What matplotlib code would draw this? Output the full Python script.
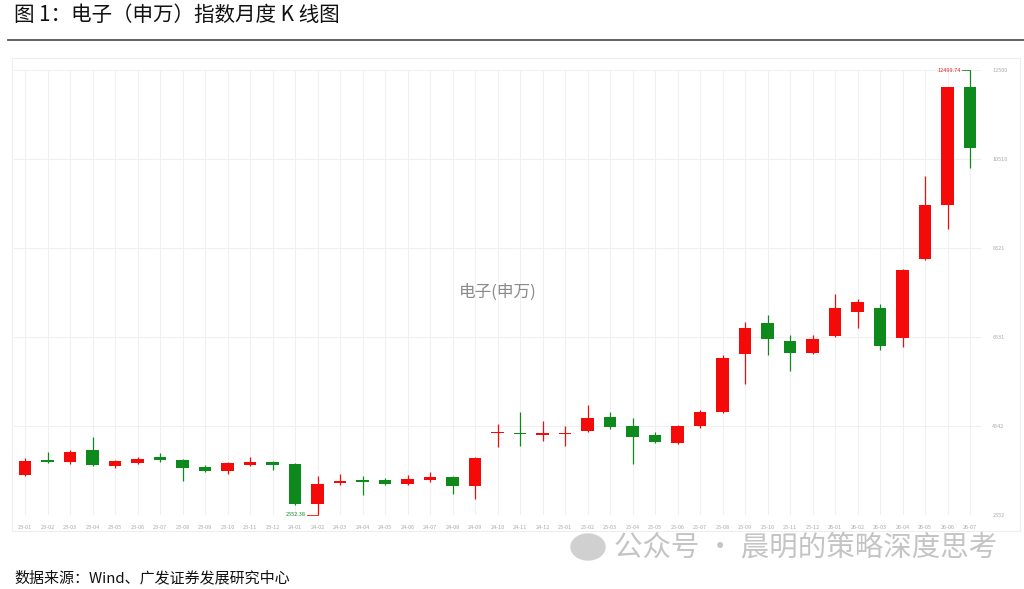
import numpy as np
import matplotlib
matplotlib.use("Agg")
import matplotlib.pyplot as plt
from matplotlib.patches import Rectangle, Ellipse

plt.rcParams['font.family'] = ['Noto Sans CJK SC', 'DejaVu Sans']

months = ["23-01", "23-02", "23-03", "23-04", "23-05", "23-06", "23-07", "23-08", "23-09", "23-10",
          "23-11", "23-12", "24-01", "24-02", "24-03", "24-04", "24-05", "24-06", "24-07", "24-08",
          "24-09", "24-10", "24-11", "24-12", "25-01", "25-02", "25-03", "25-04", "25-05", "25-06",
          "25-07", "25-08", "25-09", "25-10", "25-11", "25-12", "26-01", "26-02", "26-03", "26-04",
          "26-05", "26-06", "26-07"]
opens = [3446, 3781, 3737, 4005, 3647, 3714, 3848, 3781, 3625, 3535,
         3670, 3737, 3692, 2798, 3267, 3334, 3334, 3245, 3334, 3401,
         3200, 4385, 4385, 4340, 4362, 4429, 4742, 4541, 4340, 4161,
         4541, 4854, 6150, 6843, 6441, 6173, 6553, 7089, 7178, 6508,
         8274, 9481, 12120]
closes = [3759, 3737, 3960, 3670, 3759, 3804, 3781, 3602, 3535, 3714,
          3737, 3670, 2798, 3245, 3312, 3290, 3245, 3357, 3401, 3200,
          3826, 4407, 4362, 4385, 4385, 4720, 4519, 4295, 4184, 4541,
          4854, 6061, 6731, 6486, 6173, 6486, 7178, 7313, 6329, 8028,
          9481, 12120, 10754]
highs = [3826, 3960, 4005, 4295, 3781, 3848, 3938, 3804, 3670, 3737,
         3848, 3759, 3714, 3424, 3468, 3424, 3379, 3446, 3513, 3424,
         3848, 4586, 4854, 4653, 4541, 5011, 4854, 4720, 4407, 4564,
         4899, 6128, 6866, 7022, 6575, 6575, 7491, 7380, 7268, 8050,
         10129, 12130, 12499.74]
lows = [3424, 3714, 3692, 3647, 3602, 3692, 3737, 3312, 3513, 3468,
        3647, 3558, 2776, 2552.38, 3223, 2999, 3223, 3223, 3290, 3021,
        2910, 4072, 4094, 4206, 4094, 4407, 4474, 3692, 4161, 4139,
        4496, 4832, 5480, 6128, 5770, 6150, 6530, 6731, 6240, 6307,
        8252, 8944, 10307]

ymin, ymax = 2552.38, 12499.74
up_color = "#f50a0a"
down_color = "#0e8a1c"

fig = plt.figure(figsize=(10.24, 5.89), dpi=100)

# title and rule
fig.text(14 / 1024, 1 - 15 / 589, "图 1：电子（申万）指数月度 K 线图", fontsize=14.8,
         color="#111111", va="center", ha="left", weight="medium")
fig.add_artist(plt.Line2D([8 / 1024, 1], [1 - 40 / 589] * 2, color="#555555", lw=1.3))

# faint outer frame of the chart
fig.add_artist(Rectangle((12 / 1024, 1 - 531 / 589), 1008 / 1024, 473 / 589,
                         transform=fig.transFigure, fill=False, ec="#eeeeee", lw=0.8))

ax = fig.add_axes([13.75 / 1024, 1 - 515 / 589, 967.5 / 1024, 445 / 589])
x = np.arange(len(months))
ax.set_xlim(-0.5, len(months) - 0.5)
ax.set_ylim(ymin, ymax)

yticks = np.linspace(ymin, ymax, 6)
ax.set_yticks(yticks)
ax.set_yticklabels([f"{v:.0f}" for v in yticks])
ax.set_xticks(x)
ax.set_xticklabels(months)
ax.yaxis.tick_right()
ax.tick_params(axis="both", length=0, labelsize=4, colors="#aaaaaa")
ax.tick_params(axis="x", pad=7)
ax.tick_params(axis="y", pad=8)
ax.grid(True, color="#f0f0f0", lw=0.8)
ax.set_axisbelow(True)
for s in ax.spines.values():
    s.set_visible(False)

w = 0.55
for i in range(len(months)):
    o, c, h, l = opens[i], closes[i], highs[i], lows[i]
    col = up_color if c >= o else down_color
    ax.vlines(x[i], l, h, color=col, lw=0.9, zorder=2)
    bot = min(o, c)
    hgt = max(abs(c - o), 25)
    ax.add_patch(Rectangle((x[i] - w / 2, bot), w, hgt, color=col, zorder=3, lw=0))

# max / min markers
imax = int(np.argmax(highs))
imin = int(np.argmin(lows))
ax.plot([imax - 0.35, imax], [highs[imax], highs[imax]], color=down_color, lw=0.6)
ax.text(imax - 0.4, highs[imax], f"{highs[imax]:.2f}", color="#e02020", fontsize=4,
        ha="right", va="center")
ax.plot([imin - 0.45, imin], [lows[imin], lows[imin]], color=up_color, lw=0.6, clip_on=False)
ax.text(imin - 0.5, lows[imin], f"{lows[imin]:.2f}", color=down_color, fontsize=4,
        ha="right", va="center")

ax.text(0.5, 0.5, "电子(申万)", transform=ax.transAxes, fontsize=12, color="#8a8a8a",
        ha="center", va="center")

# watermark and source
fig.add_artist(Ellipse((588 / 1024, 1 - 547 / 589), 34 / 1024, 26 / 589,
                       transform=fig.transFigure, color="#d0d0d0"))
fig.text(614 / 1024, 1 - 548 / 589, "公众号 · 晨明的策略深度思考", fontsize=20.5,
         color="#c4c4c4", va="center", ha="left")
fig.text(14 / 1024, 1 - 578 / 589, "数据来源：Wind、广发证券发展研究中心", fontsize=10.8,
         color="#111111", va="center", ha="left")

fig.savefig("out.png", dpi=100, facecolor="white")
